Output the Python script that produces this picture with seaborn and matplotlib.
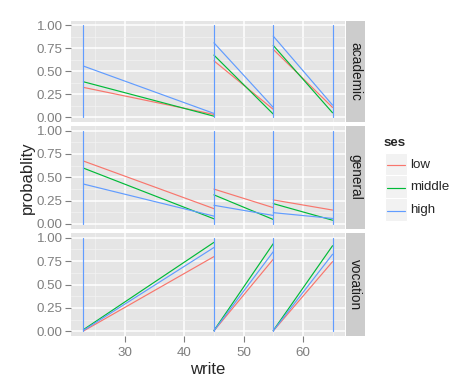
import numpy as np
import pandas as pd
import matplotlib
matplotlib.use("Agg")
import matplotlib.pyplot as plt
from matplotlib.patches import Rectangle
from matplotlib.lines import Line2D
import seaborn as sns

# data
progs = ["academic", "general", "vocation"]
ses_levels = ["low", "middle", "high"]
seg_start = [23, 45, 55]
seg_end = [45, 55, 65]
jumps = [23, 45, 55, 65]

# probability at start / end of each segment
p_start = {
    "academic": {"low": [0.325, 0.613, 0.737],
                 "middle": [0.386, 0.675, 0.780],
                 "high": [0.556, 0.808, 0.881]},
    "general": {"low": [0.674, 0.373, 0.257],
                "middle": [0.598, 0.311, 0.217],
                "high": [0.427, 0.199, 0.120]},
    "vocation": {"low": [0.003, 0.005, 0.005],
                 "middle": [0.018, 0.008, 0.008],
                 "high": [0.010, 0.006, 0.006]},
}
p_end = {
    "academic": {"low": [0.032, 0.087, 0.108],
                 "middle": [0.013, 0.036, 0.050],
                 "high": [0.043, 0.108, 0.133]},
    "general": {"low": [0.163, 0.174, 0.148],
                "middle": [0.054, 0.047, 0.039],
                "high": [0.083, 0.090, 0.058]},
    "vocation": {"low": [0.798, 0.770, 0.744],
                 "middle": [0.950, 0.936, 0.914],
                 "high": [0.895, 0.850, 0.823]},
}

rows = []
for prog in progs:
    for s in ses_levels:
        for k in range(len(seg_start)):
            seg = f"{s}-{k}"
            rows.append((prog, s, seg, seg_start[k], p_start[prog][s][k]))
            rows.append((prog, s, seg, seg_end[k], p_end[prog][s][k]))
    # the 0 -> 1 jumps; "high" is drawn last so only its colour shows
    for j, xj in enumerate(jumps):
        seg = f"v{j}"
        rows.append((prog, "high", seg, xj, 0.0))
        rows.append((prog, "high", seg, xj, 1.0))
df = pd.DataFrame(rows, columns=["prog", "ses", "seg", "write", "probability"])

sns.set_style("dark")
plt.rcParams["font.family"] = ["Liberation Sans", "DejaVu Sans"]

pal = {"low": "#F8766D", "middle": "#00BA38", "high": "#619CFF"}
grey50 = "#7F7F7F"

W, H = 473, 391
fig = plt.figure(figsize=(W / 100, H / 100), dpi=100)


def box(l, t, r, b):
    return [l / W, 1 - b / H, (r - l) / W, (b - t) / H]


panels = [(71, 20.5, 345, 122), (71, 126, 345, 228.5), (71, 233, 345, 336)]

for i, prog in enumerate(progs):
    l, t, r, b = panels[i]
    ax = fig.add_axes(box(l, t, r, b))
    ax.set_facecolor("#E5E5E5")
    ax.set_axisbelow(True)
    sub = df[df["prog"] == prog]
    sns.lineplot(data=sub, x="write", y="probability", hue="ses",
                 hue_order=ses_levels, units="seg", estimator=None, sort=False,
                 palette=dict(pal), lw=0.85, legend=False, ax=ax)
    ax.set_xlim(20.9, 67.1)
    ax.set_ylim(-0.05, 1.05)
    ax.set_xticks([30, 40, 50, 60])
    ax.set_xticks([25, 35, 45, 55, 65], minor=True)
    ax.set_yticks([0, 0.25, 0.5, 0.75, 1.0])
    ax.set_yticks([0.125, 0.375, 0.625, 0.875], minor=True)
    ax.set_yticklabels(["0.00", "0.25", "0.50", "0.75", "1.00"])
    ax.grid(which="major", color="white", lw=1.1)
    ax.grid(which="minor", color="#F2F2F2", lw=0.55)
    for sp in ax.spines.values():
        sp.set_visible(False)
    ax.tick_params(which="major", axis="both", length=4, width=0.8,
                   color=grey50, labelcolor=grey50, labelsize=9.6,
                   left=True, bottom=(i == 2))
    ax.tick_params(axis="y", pad=2)
    ax.tick_params(axis="x", pad=4)
    ax.tick_params(which="minor", length=0)
    if i < 2:
        ax.set_xticklabels([])
    ax.set_xlabel("")
    ax.set_ylabel("")

    # strip
    sax = fig.add_axes(box(345.5, t, 365, b))
    sax.set_facecolor("#CCCCCC")
    sax.set_xticks([])
    sax.set_yticks([])
    for sp in sax.spines.values():
        sp.set_visible(False)
    sax.text(0.5, 0.5, prog, rotation=270, ha="center", va="center",
             fontsize=9.8, color="#1A1A1A", transform=sax.transAxes)

fig.text(208 / W, 1 - 369 / H, "write", ha="center", va="center", fontsize=12)
fig.text(27 / W, 1 - 178 / H, "probablity", ha="center", va="center",
         rotation=90, fontsize=12)

# legend
fig.text(384 / W, 1 - 142.7 / H, "ses", ha="left", va="center",
         fontsize=9.6, fontweight="bold")
key_top = 152.5
key_h = 22.8
for k, s in enumerate(ses_levels):
    t = key_top + k * key_h
    fig.add_artist(Rectangle((385 / W, 1 - (t + key_h) / H), 22 / W, key_h / H,
                             transform=fig.transFigure, facecolor="#F2F2F2",
                             edgecolor="white", lw=0.8, zorder=1))
    yc = 1 - (round(t + key_h / 2) + 0.5) / H
    fig.add_artist(Line2D([387 / W, 405 / W], [yc, yc], transform=fig.transFigure,
                          color=pal[s], lw=0.85, zorder=3))
    fig.text(410 / W, yc, s, ha="left", va="center", fontsize=9.6)

fig.savefig("out.png", dpi=100)
